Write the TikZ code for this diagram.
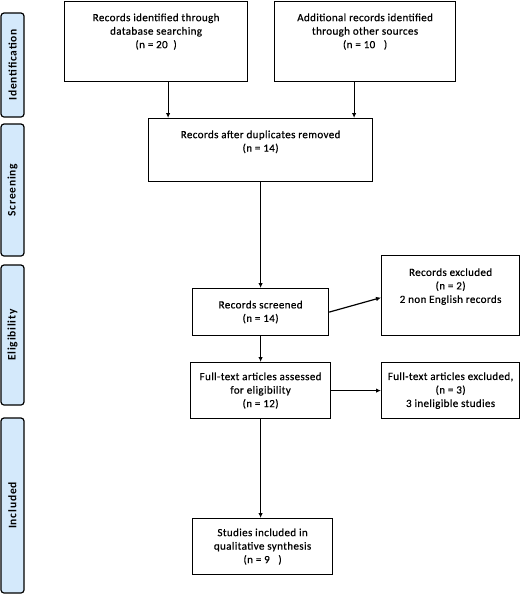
\documentclass[tikz,border=0pt]{standalone}
\usepackage{fontspec}
\setmainfont{Carlito}
\newfontfamily\boxfont[LetterSpace=3.5,FakeBold=0.6]{Carlito}
\newfontfamily\tabfont[LetterSpace=7]{Carlito}
\usepackage{xcolor}
\usetikzlibrary{calc, arrows.meta}
\definecolor{tabblue}{RGB}{212,233,251}

\begin{document}
\begin{tikzpicture}[x=1pt,y=-1pt,
    box/.style={draw,line width=1.2pt,align=center,anchor=north west,inner sep=0pt,
                font=\boxfont\fontsize{11}{13.5}\selectfont},
    tab/.style={draw,line width=1.2pt,fill=tabblue,rounded corners=3pt,rotate=90,
                minimum height=23pt,inner sep=0pt,font=\tabfont\fontsize{11.5}{12}\selectfont\bfseries},
    arr/.style={line width=1.2pt,-{Latex[length=5pt,width=4.5pt]}}]
                    \useasboundingbox (0,0) rectangle (520,595);
                    % side tabs
                    \node[tab,minimum width=104pt] (tid) at (12.5,65) {Identification};
                    \node[tab,minimum width=132pt] (tscr) at (12.5,190) {Screening};
                    \node[tab,minimum width=140pt] (telig) at (12.5,335) {Eligibility};
                    \node[tab,minimum width=175pt] (tincl) at (12.5,505.5) {Included};
                    % boxes
                    \node[box,minimum width=183pt,minimum height=80pt] (db) at (64,1)
                        {Records identified through\\database searching\\(n = 20\ \ )\\[8pt]~};
                    \node[box,minimum width=181pt,minimum height=80pt] (other) at (274,1)
                        {Additional records identified\\through other sources\\(n = 10\ \ \ )\\[8pt]~};
                    \node[box,minimum width=224pt,minimum height=63pt] (dup) at (148,118)
                        {Records after duplicates removed\\(n = 14)\\[4.5pt]~};
                    \node[box,minimum width=136pt,minimum height=47pt] (scr) at (192,288)
                        {Records screened\\(n = 14)};
                    \node[box,minimum width=138pt,minimum height=80pt] (exc) at (381,255)
                        {Records excluded\\(n = 2)\\2 non English records\\[6.5pt]~};
                    \node[box,minimum width=140pt,minimum height=56pt] (full) at (190,362)
                        {Full-text articles assessed\\for eligibility\\(n = 12)};
                    \node[box,minimum width=138pt,minimum height=56pt] (fexc) at (381,362)
                        {Full-text articles excluded,\\(n = 3)\\3 ineligible studies};
                    \node[box,minimum width=140pt,minimum height=56pt] (incl) at (192,518)
                        {Studies included in\\qualitative synthesis\\(n = 9\ \ \ )};
                    % arrows
                    \draw[arr] ([xshift=12pt]db.south) -- ([xshift=12pt]db.south |- dup.north);
                    \draw[arr] ([xshift=-11pt]other.south) -- ([xshift=-11pt]other.south |- dup.north);
                    \draw[arr] (dup.south) -- (dup.south |- scr.north);
                    \draw[arr] (scr.east) -- ([yshift=-2pt]exc.west);
                    \draw[arr] (scr.south) -- (scr.south |- full.north);
                    \draw[arr] (full.east) -- (full.east -| fexc.west);
                    \draw[arr] (full.south) -- (full.south |- incl.north);
                \end{tikzpicture}
\end{document}
